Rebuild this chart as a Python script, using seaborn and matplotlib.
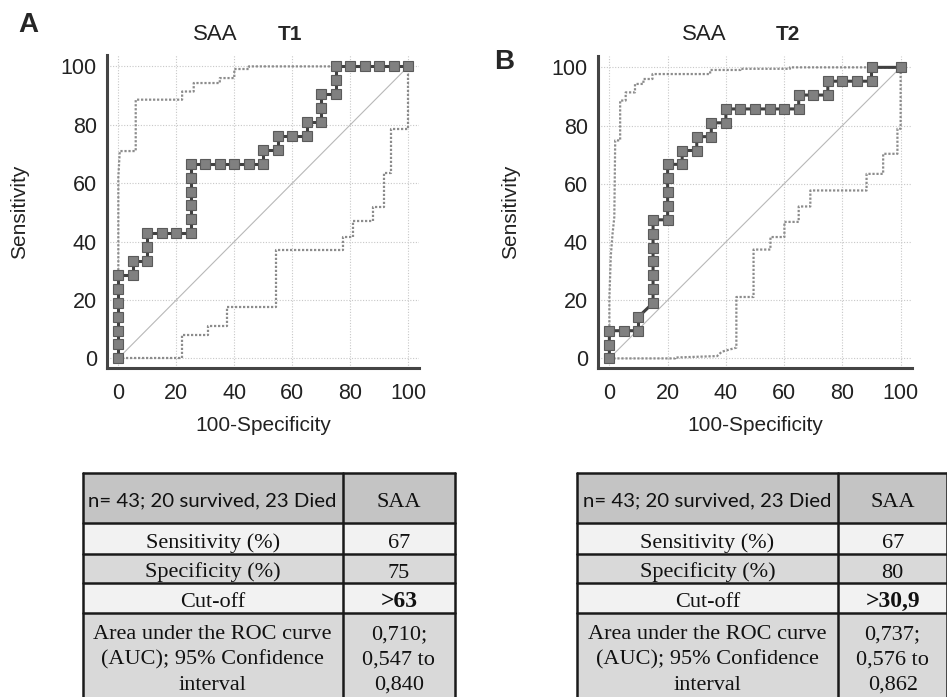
import matplotlib
matplotlib.use("Agg")
import matplotlib.pyplot as plt
from matplotlib.ticker import MultipleLocator
from matplotlib.patches import Rectangle
import seaborn as sns

# sensitivity steps are k/21, specificity steps are 5 %
roc_t1_fpr = [0, 0, 0, 0, 0, 0, 0, 5, 5, 10, 10, 10, 15, 20, 25, 25, 25, 25, 25, 25,
              30, 35, 40, 45, 50, 50, 55, 55, 60, 65, 65, 70, 70, 70, 75, 75, 75,
              80, 85, 90, 95, 100]
roc_t1_tpr = [0, 4.76, 9.52, 14.29, 19.05, 23.81, 28.57, 28.57, 33.33, 33.33, 38.10, 42.86,
              42.86, 42.86, 42.86, 47.62, 52.38, 57.14, 61.90, 66.67,
              66.67, 66.67, 66.67, 66.67, 66.67, 71.43, 71.43, 76.19, 76.19, 76.19, 80.95,
              80.95, 85.71, 90.48, 90.48, 95.24, 100, 100, 100, 100, 100, 100]

roc_t2_fpr = [0, 0, 0, 5, 10, 10, 15, 15, 15, 15, 15, 15, 15, 20, 20, 20, 20, 20,
              25, 25, 30, 30, 35, 35, 40, 40, 45, 50, 55, 60, 65, 65, 70, 75, 75,
              80, 85, 90, 90, 100]
roc_t2_tpr = [0, 4.76, 9.52, 9.52, 9.52, 14.29, 19.05, 23.81, 28.57, 33.33, 38.10, 42.86,
              47.62, 47.62, 52.38, 57.14, 61.90, 66.67, 66.67, 71.43, 71.43, 76.19,
              76.19, 80.95, 80.95, 85.71, 85.71, 85.71, 85.71, 85.71, 85.71, 90.48,
              90.48, 90.48, 95.24, 95.24, 95.24, 95.24, 100, 100]

# 95 % confidence bounds (dotted)
ci_t1_upper_x = [0, 0, 0.5, 6, 6, 22, 22, 26, 26, 35, 35, 40, 40, 45, 45, 100]
ci_t1_upper_y = [0, 62, 71, 71, 88.6, 88.6, 91.4, 91.4, 94.3, 94.3, 96, 96, 99.1, 99.1, 100, 100]
ci_t1_lower_x = [0, 22, 22, 31, 31, 37.5, 37.5, 54.5, 54.5, 77.5, 77.5, 81, 81, 88, 88,
                 91.5, 91.5, 94, 94, 100, 100]
ci_t1_lower_y = [0, 0, 8, 8, 11.1, 11.1, 17.7, 17.7, 37.1, 37.1, 41.7, 41.7, 46.9, 46.9,
                 52, 52, 63.4, 63.4, 78.5, 78.5, 100]

ci_t2_upper_x = [0, 0, 0.5, 1.1, 1.7, 2, 3.7, 3.7, 5.6, 5.6, 8.8, 8.8, 11.7, 11.7, 14.8,
                 14.8, 34.6, 34.6, 45, 45, 62, 62, 100]
ci_t2_upper_y = [0, 20.6, 35.4, 42.9, 48.6, 74.9, 74.9, 88.6, 88.6, 91.4, 91.4, 94.3, 94.3,
                 96, 96, 97.7, 97.7, 99.1, 99.1, 99.5, 99.5, 100, 100]
ci_t2_lower_x = [0, 22.6, 22.6, 37, 38.6, 43.6, 43.6, 49.5, 49.5, 55.3, 55.3, 60.1, 60.1,
                 65, 65, 69, 69, 88.3, 88.3, 94, 94, 98.9, 98.9, 100, 100]
ci_t2_lower_y = [0, 0, 0.3, 0.8, 2.3, 3.7, 21.1, 21.1, 37.4, 37.4, 41.7, 41.7, 46.9, 46.9,
                 52.2, 52.2, 57.7, 57.7, 63.4, 63.4, 70.3, 70.3, 78.9, 78.9, 100]

tick_values = [0, 20, 40, 60, 80, 100]

table_header = "n= 43; 20 survived, 23 Died"
table_rows = ["Sensitivity (%)", "Specificity (%)", "Cut-off",
              "Area under the ROC curve\n(AUC); 95% Confidence\ninterval"]
table_t1_vals = ["SAA", "67", "75", ">63", "0,710;\n0,547 to\n0,840"]
table_t2_vals = ["SAA", "67", "80", ">30,9", "0,737;\n0,576 to\n0,862"]
row_colors = ["#c4c4c4", "#f2f2f2", "#d9d9d9", "#f2f2f2", "#d9d9d9"]

sns.set_style("white")
plt.rcParams["font.family"] = ["Liberation Sans", "DejaVu Sans"]

W, H = 947, 697
fig = plt.figure(figsize=(W / 100, H / 100), dpi=100)

overlay = fig.add_axes([0, 0, 1, 1])
overlay.set_xlim(0, W)
overlay.set_ylim(H, 0)
overlay.axis("off")


def px_axes(left, top, right, bottom):
    return fig.add_axes([left / W, 1 - bottom / H, (right - left) / W, (bottom - top) / H])


def draw_roc(ax, fpr, tpr, ux, uy, lx, ly):
    ax.plot([0, 100], [0, 100], color="#b8b8b8", lw=0.8, zorder=1)
    for bx, by in [(ux, uy), (lx, ly)]:
        sns.lineplot(x=bx, y=by, sort=False, estimator=None, ax=ax, color="#8c8c8c",
                     lw=1.6, linestyle=(0, (1, 0.8)), zorder=2)
    sns.lineplot(x=fpr, y=tpr, sort=False, estimator=None, ax=ax, color="#404040",
                 lw=2.2, marker="s", markersize=6.5, markerfacecolor="#808080",
                 markeredgecolor="#5a5a5a", markeredgewidth=0.8, zorder=3)

    ax.set_xlim(-3.8, 103.8)
    ax.set_ylim(-3.4, 103.9)
    ax.set_xticks(tick_values)
    ax.set_yticks(tick_values)
    ax.xaxis.set_minor_locator(MultipleLocator(5))
    ax.yaxis.set_minor_locator(MultipleLocator(5))
    ax.grid(True, which="major", color="#c8c8c8", lw=0.8, linestyle=(0, (1, 1.5)))
    ax.set_axisbelow(True)
    for side in ["top", "right"]:
        ax.spines[side].set_visible(False)
    for side in ["left", "bottom"]:
        ax.spines[side].set_color("#444444")
        ax.spines[side].set_linewidth(2.2)
    ax.tick_params(which="both", direction="in", color="#444444", width=1.5,
                   labelsize=15.5, labelcolor="#222222")
    ax.tick_params(which="major", length=9)
    ax.tick_params(which="minor", length=4.5)
    ax.tick_params(axis="x", pad=10.5)
    ax.tick_params(axis="y", pad=7.5)
    ax.set_xlabel("100-Specificity", fontsize=15, color="#222222")
    ax.set_ylabel("Sensitivity", fontsize=15, color="#222222")
    ax.xaxis.set_label_coords(0.5, -0.153)
    ax.yaxis.set_label_coords(-0.251, 0.5)


ax1 = px_axes(107.3, 55, 419.3, 368.3)
draw_roc(ax1, roc_t1_fpr, roc_t1_tpr, ci_t1_upper_x, ci_t1_upper_y, ci_t1_lower_x, ci_t1_lower_y)
ax2 = px_axes(598.3, 56, 911.7, 368.3)
draw_roc(ax2, roc_t2_fpr, roc_t2_tpr, ci_t2_upper_x, ci_t2_upper_y, ci_t2_lower_x, ci_t2_lower_y)

# panel letters and titles
overlay.text(28, 25, "A", fontsize=20, fontweight="bold", ha="center", va="center")
overlay.text(504, 62, "B", fontsize=20, fontweight="bold", ha="center", va="center")
overlay.text(215, 34, "SAA", fontsize=16, ha="center", va="center", color="#222222")
overlay.text(290, 34, "T1", fontsize=15, fontweight="bold", ha="center", va="center")
overlay.text(704, 34, "SAA", fontsize=16, ha="center", va="center", color="#222222")
overlay.text(788, 34, "T2", fontsize=15, fontweight="bold", ha="center", va="center")

# tables
row_edges = [472.7, 523.3, 554.3, 583.3, 613.3, 703]
row_baselines = [506.7, 548.3, 577.5, 607.3, 639]
line_step = 25.5
serif = ["Liberation Serif", "DejaVu Serif"]


def put_lines(x, y0, text, **kw):
    for k, line in enumerate(text.split("\n")):
        overlay.text(x, y0 + k * line_step, line, ha="center", va="baseline",
                     color="#111111", zorder=3, **kw)


def draw_table(x0, xm, x1, values):
    labels = [table_header] + table_rows
    for i, color in enumerate(row_colors):
        top, bot = row_edges[i], row_edges[i + 1]
        overlay.add_patch(Rectangle((x0, top), x1 - x0, bot - top, facecolor=color,
                                    edgecolor="none", zorder=1))
        yb = row_baselines[i]
        if i == 0:
            put_lines((x0 + xm) / 2, yb, labels[i], fontsize=14.7,
                      family=["Lato", "DejaVu Sans"])
        else:
            put_lines((x0 + xm) / 2, yb, labels[i], fontsize=16, family=serif)
        put_lines((xm + x1) / 2, yb, values[i], fontsize=17 if i == 3 else 16,
                  family=serif, fontweight="bold" if i == 3 else "normal")
    for y in row_edges[:-1]:
        overlay.plot([x0, x1], [y, y], color="#1a1a1a", lw=1.8, zorder=4)
    for x in [x0, xm, x1]:
        overlay.plot([x, x], [row_edges[0], row_edges[-1]], color="#1a1a1a", lw=1.8, zorder=4)


draw_table(82.7, 342.7, 455, table_t1_vals)
draw_table(576.7, 838.3, 947, table_t2_vals)

fig.savefig("out.png", dpi=100)
